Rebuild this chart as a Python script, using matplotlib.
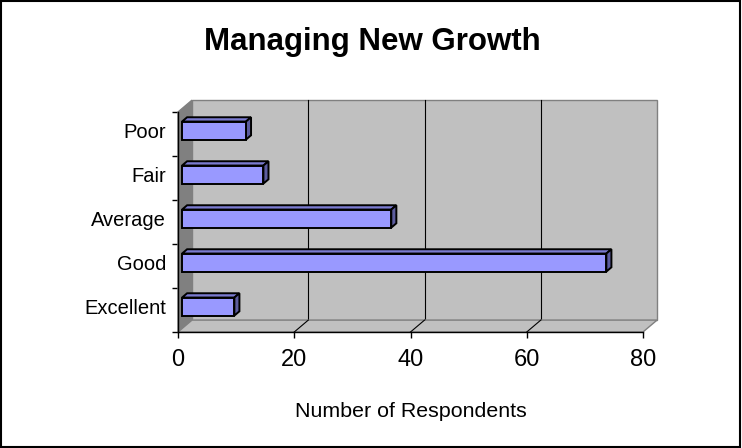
import matplotlib
matplotlib.use("Agg")
from matplotlib import pyplot as plt
from matplotlib.patches import Rectangle, Polygon

plt.rcParams['font.family'] = ['Liberation Sans', 'DejaVu Sans']

# data
categories = ['Excellent', 'Good', 'Average', 'Fair', 'Poor']
respondents = [9, 73, 36, 14, 11]
x_ticks = [0, 20, 40, 60, 80]

# 3d look (depth of the walls, in data units)
wall_dx, wall_dy = 2.41, 0.27
bar_front = 0.29          # fraction of depth where bar front sits
bar_depth = 0.36          # fraction of depth taken by bar
bar_h = 0.41

fig = plt.figure(figsize=(7.42, 4.48), dpi=100)
ax = fig.add_axes([178/742, 116/448, 465/742, 220/448])
ax.set_xlim(0, 80)
ax.set_ylim(-0.5, 4.5)
ax.patch.set_visible(False)

y0, y1 = -0.5, 4.5
# back wall
ax.add_patch(Rectangle((wall_dx, y0 + wall_dy), 80, 5, facecolor='#c0c0c0',
                       edgecolor='#808080', lw=1, clip_on=False, zorder=0))
# gridlines on back wall + floor
for t in x_ticks[1:-1]:
    ax.plot([t + wall_dx, t + wall_dx], [y0 + wall_dy, y1 + wall_dy], color='black', lw=0.8,
            clip_on=False, zorder=1)
# left side wall
ax.add_patch(Polygon([(0, y0), (0, y1), (wall_dx, y1 + wall_dy), (wall_dx, y0 + wall_dy)],
                     closed=True, facecolor='#808080', edgecolor='#808080', lw=1,
                     clip_on=False, zorder=2))
# floor
ax.add_patch(Polygon([(0, y0), (80, y0), (80 + wall_dx, y0 + wall_dy), (wall_dx, y0 + wall_dy)],
                     closed=True, facecolor='#c0c0c0', edgecolor='#808080', lw=1,
                     clip_on=False, zorder=2))
for t in x_ticks[1:-1]:
    ax.plot([t, t + wall_dx], [y0, y0 + wall_dy], color='black', lw=0.8, clip_on=False, zorder=3)

# bars
fx, fy = bar_front * wall_dx, bar_front * wall_dy
bx, by = bar_depth * wall_dx, bar_depth * wall_dy
for i, v in enumerate(respondents):
    left = fx
    bot = i + fy - bar_h / 2
    top = bot + bar_h
    ax.add_patch(Polygon([(left, top), (left + v, top), (left + v + bx, top + by), (left + bx, top + by)],
                         closed=True, facecolor='#7b7bd0', edgecolor='black', lw=1.4,
                         clip_on=False, zorder=4, joinstyle='miter'))
    ax.add_patch(Polygon([(left + v, bot), (left + v, top), (left + v + bx, top + by), (left + v + bx, bot + by)],
                         closed=True, facecolor='#5c5c9e', edgecolor='black', lw=1.4,
                         clip_on=False, zorder=4, joinstyle='miter'))
    ax.add_patch(Rectangle((left, bot), v, bar_h, facecolor='#9999ff', edgecolor='black',
                           lw=1.4, clip_on=False, zorder=5, joinstyle='miter'))

for s in ['top', 'right']:
    ax.spines[s].set_visible(False)
for s in ['left', 'bottom']:
    ax.spines[s].set_color('black')
    ax.spines[s].set_linewidth(1)
    ax.spines[s].set_zorder(6)

ax.set_yticks([k + fy for k in range(len(categories))])
ax.set_yticklabels(categories, fontsize=14.5)
ax.set_yticks([k - 0.5 for k in range(len(categories) + 1)], minor=True)
ax.tick_params(axis='y', which='major', length=0, pad=8.5)
ax.tick_params(axis='y', which='minor', length=4.5, width=1, direction='out')
ax.set_xticks(x_ticks)
ax.tick_params(axis='x', length=4.5, width=1, direction='out', labelsize=17, pad=8)
ax.set_xlabel('Number of Respondents', fontsize=15.4, labelpad=22)

fig.text(372/742, 406/448, 'Managing New Growth', fontsize=22.5, fontweight='bold',
         ha='center', va='center')

fig.add_artist(Rectangle((0.002, 0.003), 0.995, 0.994, transform=fig.transFigure,
                         fill=False, edgecolor='black', lw=1.5))

fig.savefig('out.png', dpi=100, facecolor='white')
